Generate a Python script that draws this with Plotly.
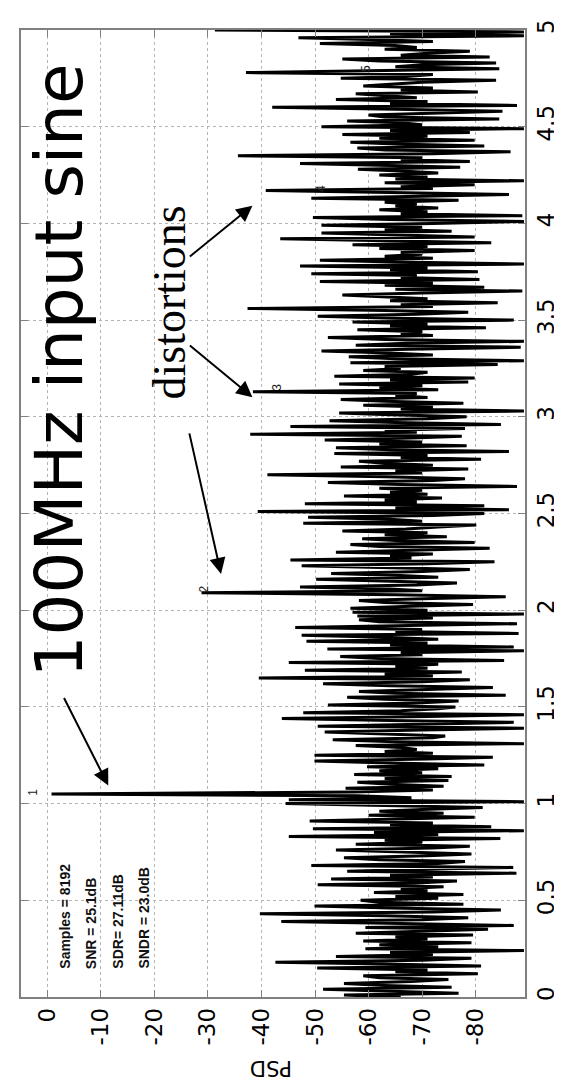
import plotly.graph_objects as go

# ---------------- data ----------------
freq_start = 0.0      # first frequency bin
freq_step = 0.01

psd_db = [
    -66, -55.4, -76.8, -64, -51.5, -75.5, -63, -55.4, -68, -74.9,
    -62, -59, -80.4, -65, -71, -50.4, -81, -63, -42.6, -70,
    -79.2, -53.9, -72, -64, -89, -59.4, -73, -62, -79.2, -59,
    -71, -65, -79.5, -57.6, -72, -82.3, -59.4, -87.1, -66, -43.7,
    -70, -78.6, -63, -39.7, -72, -84.7, -64, -49.9, -77.7, -62,
    -58.5, -73, -65, -77.7, -61, -71, -66, -74, -50.5, -69,
    -76.5, -53, -72, -64, -87.6, -56, -70, -87, -49.3, -73,
    -78, -62, -55.4, -71, -79.2, -65, -53.9, -72, -78.9, -57.6,
    -70, -63, -84.6, -45.1, -73, -61, -89, -49.6, -82.9, -64,
    -72, -49, -66, -79.8, -60, -74, -62, -70, -81.3, -63,
    -44.5, -89, -45.1, -68, -58, -0.8, -57, -72, -55.7, -74,
    -64, -57.9, -74.9, -63, -75.5, -57.3, -70, -62, -73, -59.7,
    -81.6, -64, -49.9, -71, -83.2, -49.9, -72, -63, -69, -66,
    -57.6, -89, -65, -53.3, -72, -74.3, -62, -51.8, -70, -89,
    -50.5, -68, -87.1, -64, -43.8, -71, -89, -47.8, -66, -73,
    -76.2, -52.4, -69, -76.8, -63, -56, -85.6, -65, -58.2, -71,
    -83.2, -64, -51.5, -70, -78.9, -39.5, -72, -63, -77.4, -48.1,
    -71, -65, -73, -45.1, -85.3, -62, -54.7, -70, -66, -89,
    -52.3, -87.1, -64, -71, -48.4, -73, -63, -47.5, -88, -65,
    -70, -46.3, -67, -87.7, -62, -58.2, -72, -57.9, -89, -57,
    -71, -56.6, -68, -79.5, -63, -58.2, -72, -85.6, -65, -28.8,
    -70, -64, -47.2, -69, -76.5, -62, -50.2, -73, -66, -53,
    -70, -78.9, -63, -47.5, -71, -83.5, -45.4, -68, -64, -72,
    -53.9, -69, -82.6, -62, -56.6, -79.8, -65, -58.8, -74.6, -63,
    -71, -55.1, -67, -73, -80.1, -47.8, -70, -64, -48.7, -72,
    -81.6, -39.3, -86.2, -65, -81.6, -48.1, -69, -63, -73.7, -55.4,
    -71, -64, -70, -62, -87.7, -66, -52.4, -72, -78, -63,
    -41.1, -70, -65, -78.6, -54.8, -72, -63, -58.2, -81, -66,
    -71, -53.6, -86.2, -64, -53.9, -78.3, -62, -70, -51.8, -68,
    -77.4, -37.9, -69, -63, -78, -45.4, -84.7, -65, -52.7, -71,
    -78.3, -64, -54.5, -89, -66, -72, -59, -77.7, -63, -54.8,
    -71, -65, -69, -38.4, -73, -62, -70, -54.5, -78.6, -64,
    -79.8, -53.6, -68, -71, -59, -66, -63, -84.1, -56.6, -89,
    -65, -56.3, -72, -64, -51.2, -70, -88.4, -57.6, -67, -89,
    -63, -52.4, -72, -66, -70, -57.9, -81.9, -64, -71, -57,
    -87.1, -65, -50.5, -69, -78.6, -63, -37.4, -72, -66, -84.1,
    -64, -71, -62, -55.1, -70, -88.7, -65, -81.6, -63, -72,
    -50.9, -80.7, -66, -69, -49.3, -80.4, -64, -71, -47.2, -89,
    -65, -50.9, -72, -63, -70, -66, -79.8, -62, -71, -57,
    -82.9, -66, -43.5, -79.8, -64, -51.2, -75.5, -63, -70, -51.2,
    -72, -89, -64, -49.6, -88.7, -66, -71, -62, -73, -65,
    -69, -63, -76.8, -49.3, -70, -86.2, -64, -40.8, -72, -66,
    -79.8, -63, -89, -65, -71, -62, -73, -67, -58, -77.1,
    -64, -47.2, -78.9, -66, -70, -35.6, -72, -86.5, -63, -57.9,
    -81.6, -65, -56.6, -79.8, -62, -71, -55.1, -78.9, -64, -89,
    -51.2, -70, -66, -56, -84.4, -63, -60, -72, -85, -65,
    -42, -87.7, -64, -71, -53.9, -69, -63, -57.6, -80.4, -66,
    -72, -59, -64, -70, -83.8, -54.8, -67, -72, -37.1, -63,
    -84.4, -65, -70, -83.8, -62, -55.1, -82.6, -66, -71, -78.9,
    -63, -69, -65, -50.9, -72, -62, -46.9, -89, -64, -89,
    -31.3,
]
freq = [round(freq_start + k * freq_step, 2) for k in range(len(psd_db))]

psd_ticks = [0, -10, -20, -30, -40, -50, -60, -70, -80]
psd_ticklabels = ["0", "-10", "-20", "-30", "-40", "-50", "-60", "-70", "-80"]
freq_ticks = [0, 0.5, 1, 1.5, 2, 2.5, 3, 3.5, 4, 4.5, 5]
freq_ticklabels = ["0", "0.5", "1", "1.5", "2", "2.5", "3", "3.5", "4", "4.5", "5"]

peak_labels = ["1", "2", "3", "4", "5"]
peak_label_psd = [2.7, -29.2, -42.9, -51.0, -59.4]
peak_label_freq = [1.06, 2.11, 3.15, 4.18, 4.80]

info_lines = ["Samples = 8192", "SNR = 25.1dB", "SDR= 27.11dB", "SNDR = 23.0dB"]

# ---------------- layout geometry ----------------
W, H = 562, 1085
L, R, T, B = 11, 37, 20, 96
PW, PH = W - L - R, H - T - B


def px(xp):
    return (xp - L) / PW


def py(yp):
    return (H - B - yp) / PH


fig = go.Figure()
fig.add_trace(go.Scatter(
    x=psd_db, y=freq, mode="lines",
    line=dict(color="black", width=3),
    hoverinfo="skip", showlegend=False,
))

ann = []
# peak index labels
for lab, xv, yv in zip(peak_labels, peak_label_psd, peak_label_freq):
    ann.append(dict(x=xv, y=yv, xref="x", yref="y", text=lab, showarrow=False,
                    textangle=-90, font=dict(family="Liberation Sans", size=12, color="#222")))

# info text block
info_x = [55, 82, 109, 137]
for t, xp in zip(info_lines, info_x):
    ann.append(dict(x=px(xp), y=py(963), xref="paper", yref="paper", text="<b>" + t + "</b>",
                    showarrow=False, textangle=-90, xanchor="center", yanchor="bottom",
                    font=dict(family="Liberation Sans", size=14, color="#111"),
                    ))

# big annotation texts
ann.append(dict(x=px(50), y=py(361), xref="paper", yref="paper", text="100MHz input sine",
                showarrow=False, textangle=-90, xanchor="center", yanchor="middle",
                font=dict(family="DejaVu Sans", size=66, color="black")))
ann.append(dict(x=px(162), y=py(293), xref="paper", yref="paper", text="distortions",
                showarrow=False, textangle=-90, xanchor="center", yanchor="middle",
                font=dict(family="Liberation Serif", size=46, color="black")))

# arrows (tail -> tip, in pixels)
arrows = [((55, 688), (100, 777)), ((183, 248), (247, 196)),
          ((183, 335), (247, 388)), ((183, 423), (215, 565))]
for (tx, ty), (hx, hy) in arrows:
    ann.append(dict(x=px(hx), y=py(hy), xref="paper", yref="paper", text="",
                    showarrow=True, ax=tx - hx, ay=ty - hy, axref="pixel", ayref="pixel",
                    arrowhead=2, arrowsize=1.6, arrowwidth=2, arrowcolor="black"))

# axis title "PSD" (upside down)
ann.append(dict(x=px(266), y=py(1060), xref="paper", yref="paper", text="PSD",
                showarrow=False, textangle=180, xanchor="center", yanchor="middle",
                font=dict(family="DejaVu Sans", size=21, color="black")))

axis_common = dict(
    showgrid=True, gridcolor="#b4b4b4", griddash="dot", gridwidth=1,
    zeroline=False, ticks="inside", ticklen=7, tickcolor="#808080",
    showline=True, linecolor="#808080", linewidth=1.5, mirror="allticks",
    tickangle=-90, tickfont=dict(family="DejaVu Sans", size=23, color="black"),
)

fig.update_layout(
    width=W, height=H,
    margin=dict(l=L, r=R, t=T, b=B),
    paper_bgcolor="white", plot_bgcolor="white",
    showlegend=False,
    annotations=ann,
    xaxis=dict(range=[4.9, -89.2], tickvals=psd_ticks, ticktext=psd_ticklabels, **axis_common),
    yaxis=dict(range=[0, 5], tickvals=freq_ticks, ticktext=freq_ticklabels, side="right",
               **axis_common),
)

fig.write_html("out.html")
